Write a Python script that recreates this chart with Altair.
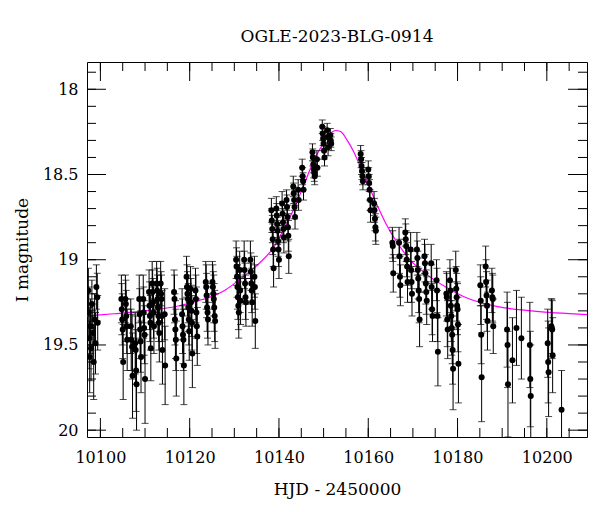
import altair as alt
import pandas as pd

hjd = [
    10097.3, 10097.4, 10097.5, 10097.6, 10097.8, 10097.9, 10098.1, 10098.3, 10098.5, 10098.7, 10098.9, 10099.1, 10099.3, 10099.4,
    10104.7, 10104.8, 10104.9, 10105.0, 10105.1,
    10105.6, 10105.7, 10105.8, 10105.9, 10106.0,
    10106.8, 10106.9, 10107.1, 10107.2,
    10107.8, 10107.9, 10108.0, 10108.1,
    10108.7, 10108.8, 10108.9, 10109.0, 10109.1,
    10109.6, 10109.7, 10109.8, 10109.9, 10110.0,
    10110.9, 10111.0, 10111.1, 10111.2, 10111.3,
    10111.6, 10111.7, 10111.8, 10111.9, 10112.0,
    10112.6, 10112.7, 10112.8, 10112.9, 10113.0, 10113.1, 10113.2,
    10113.5, 10113.6, 10113.7, 10113.8, 10113.9,
    10114.4, 10114.5,
    10116.5, 10116.6, 10116.7, 10116.8, 10116.9, 10117.0,
    10118.3, 10118.4, 10118.5, 10118.6, 10118.7,
    10119.3, 10119.4, 10119.5, 10119.6, 10119.7, 10119.8, 10119.9,
    10120.2, 10120.3, 10120.4, 10120.5, 10120.6,
    10121.3, 10121.4, 10121.5, 10121.6, 10121.7,
    10123.6, 10123.7, 10123.8, 10123.9, 10124.0, 10124.1,
    10125.1, 10125.2, 10125.3, 10125.4, 10125.5, 10125.6, 10125.7,
    10130.4, 10130.5, 10130.6, 10130.7, 10130.8, 10130.9, 10131.0,
    10131.2, 10131.3, 10131.4,
    10132.2, 10132.3, 10132.4, 10132.5, 10132.6,
    10133.6, 10133.7, 10133.8, 10133.9, 10134.0,
    10134.5, 10134.6, 10134.7,
    10138.3, 10138.4, 10138.5, 10138.6, 10138.7, 10138.8,
    10139.4, 10139.5, 10139.6, 10139.7, 10139.8, 10139.9, 10140.0,
    10140.7, 10140.8, 10140.9, 10141.0, 10141.1,
    10141.7, 10141.8, 10141.9, 10142.0, 10142.1, 10142.2,
    10143.2, 10143.3, 10143.4, 10143.5, 10143.6,
    10144.3, 10144.4,
    10145.2, 10145.3, 10145.4, 10145.5,
    10147.5, 10147.6, 10147.7, 10147.8, 10147.9, 10148.0,
    10148.5, 10148.6,
    10149.7, 10149.8, 10149.9, 10150.0, 10150.1, 10150.2,
    10150.8, 10150.9, 10151.0,
    10151.5, 10151.6, 10151.7,
    10158.3, 10158.4, 10158.5, 10158.6, 10158.7, 10158.8,
    10160.0, 10160.1, 10160.2, 10160.3, 10160.4, 10160.5,
    10161.3, 10161.4, 10161.5, 10161.6, 10161.7,
    10165.4, 10165.5, 10165.6,
    10166.9, 10167.0, 10167.1, 10167.2,
    10168.3, 10168.4, 10168.5, 10168.6, 10168.7, 10168.8,
    10169.5, 10169.6, 10169.7, 10169.8,
    10170.9, 10171.0, 10171.1, 10171.2, 10171.3, 10171.4, 10171.5,
    10172.6, 10172.7, 10172.8, 10172.9, 10173.0, 10173.1,
    10174.1, 10174.2, 10174.3, 10174.4,
    10175.3, 10175.4, 10175.5, 10175.6,
    10177.5, 10177.6, 10177.7, 10177.8,
    10178.3, 10178.4, 10178.5, 10178.6, 10178.7, 10178.8, 10178.9, 10179.0,
    10179.6, 10179.7, 10179.8, 10179.9, 10180.0, 10180.1, 10180.2,
    10185.1, 10185.2, 10185.3, 10185.4,
    10186.3, 10186.4, 10186.5, 10186.6, 10186.7,
    10187.7, 10187.8, 10187.9, 10188.0,
    10191.1, 10191.2, 10191.3,
    10192.3, 10193.2, 10194.3,
    10196.2, 10196.3, 10196.4,
    10200.2, 10200.3, 10200.4,
    10201.0, 10201.1, 10201.2, 10201.3,
    10203.3,
]

mag = [
    19.18, 19.31, 19.46, 19.57, 19.39, 19.52, 19.26, 19.43, 19.60, 19.35, 19.49, 19.16, 19.22, 19.37,
    19.23, 19.29, 19.35, 19.41, 19.60,
    19.23, 19.26, 19.33, 19.39, 19.47,
    19.39, 19.47, 19.51, 19.68,
    19.49, 19.53, 19.65, 19.73,
    19.23, 19.32, 19.41, 19.48, 19.57,
    19.23, 19.31, 19.40, 19.44, 19.70,
    19.19, 19.27, 19.33, 19.37, 19.52,
    19.14, 19.19, 19.25, 19.31, 19.39,
    19.14, 19.18, 19.23, 19.28, 19.33, 19.37, 19.43,
    19.14, 19.20, 19.23, 19.33, 19.53,
    19.32, 19.62,
    19.19, 19.23, 19.35, 19.41, 19.47, 19.58,
    19.32, 19.39, 19.44, 19.47, 19.62,
    19.10, 19.16, 19.20, 19.23, 19.28, 19.35, 19.42,
    19.17, 19.25, 19.30, 19.37, 19.55,
    19.18, 19.23, 19.31, 19.39, 19.45,
    19.13, 19.16, 19.21, 19.28, 19.31, 19.35,
    19.13, 19.16, 19.20, 19.23, 19.28, 19.33, 19.36,
    19.00, 19.04, 19.10, 19.16, 19.22, 19.27, 19.31,
    19.06, 19.18, 19.24,
    19.00, 19.06, 19.14, 19.22, 19.25,
    19.00, 19.07, 19.14, 19.18, 19.25,
    19.10, 19.16, 19.36,
    18.71, 18.77, 18.82, 18.88, 18.94, 19.05,
    18.70, 18.74, 18.79, 18.83, 18.89, 18.94, 19.00,
    18.67, 18.73, 18.78, 18.82, 18.87,
    18.65, 18.69, 18.75, 18.81, 18.86, 18.98,
    18.57, 18.61, 18.65, 18.69, 18.75,
    18.59, 18.65,
    18.46, 18.51, 18.54, 18.59,
    18.37, 18.40, 18.44, 18.47, 18.49, 18.51,
    18.41, 18.46,
    18.22, 18.26, 18.29, 18.32, 18.36, 18.40,
    18.24, 18.28, 18.34,
    18.27, 18.30, 18.32,
    18.38, 18.41, 18.45, 18.48, 18.51, 18.54,
    18.47, 18.51, 18.55, 18.59, 18.65, 18.71,
    18.67, 18.71, 18.76, 18.81, 18.83,
    18.90, 18.92, 19.08,
    18.90, 18.98, 19.10, 19.15,
    18.84, 18.88, 18.92, 19.00, 19.04, 19.13,
    18.94, 19.06, 19.13, 19.20,
    18.94, 18.99, 19.06, 19.11, 19.18, 19.23, 19.35,
    18.98, 19.02, 19.08, 19.14, 19.19, 19.24,
    19.02, 19.16, 19.29, 19.33,
    19.12, 19.18, 19.33, 19.54,
    19.20, 19.22, 19.35, 19.41,
    19.12, 19.18, 19.27, 19.33, 19.40, 19.44, 19.53, 19.64,
    19.06, 19.17, 19.22, 19.27, 19.29, 19.38, 19.61,
    19.15, 19.24, 19.44, 19.69,
    19.04, 19.13, 19.21, 19.27, 19.36,
    19.18, 19.22, 19.23, 19.39,
    19.41, 19.50, 19.73,
    19.59, 19.40, 19.46,
    19.50, 19.70, 19.80,
    19.49, 19.60, 19.66,
    19.39, 19.40, 19.41, 19.56,
    19.88,
]

err = [
    0.13, 0.15, 0.18, 0.21, 0.16, 0.19, 0.14, 0.17, 0.22, 0.15, 0.18, 0.13, 0.14, 0.16,
    0.14, 0.15, 0.15, 0.17, 0.22,
    0.14, 0.14, 0.15, 0.16, 0.18,
    0.16, 0.18, 0.19, 0.25,
    0.18, 0.20, 0.24, 0.27,
    0.14, 0.15, 0.17, 0.18, 0.21,
    0.14, 0.15, 0.16, 0.17, 0.26,
    0.13, 0.14, 0.15, 0.16, 0.19,
    0.13, 0.13, 0.14, 0.15, 0.16,
    0.13, 0.13, 0.14, 0.14, 0.15, 0.16, 0.17,
    0.13, 0.13, 0.14, 0.15, 0.20,
    0.15, 0.23,
    0.13, 0.14, 0.15, 0.17, 0.18, 0.22,
    0.15, 0.16, 0.17, 0.18, 0.23,
    0.12, 0.13, 0.13, 0.14, 0.14, 0.15, 0.17,
    0.13, 0.14, 0.15, 0.16, 0.20,
    0.13, 0.14, 0.15, 0.16, 0.17,
    0.12, 0.13, 0.13, 0.14, 0.15, 0.15,
    0.12, 0.13, 0.13, 0.14, 0.14, 0.15, 0.16,
    0.11, 0.11, 0.12, 0.13, 0.13, 0.14, 0.15,
    0.11, 0.13, 0.14,
    0.11, 0.11, 0.12, 0.13, 0.14,
    0.11, 0.11, 0.12, 0.13, 0.14,
    0.12, 0.13, 0.16,
    0.07, 0.07, 0.08, 0.09, 0.10, 0.11,
    0.07, 0.07, 0.08, 0.08, 0.09, 0.10, 0.11,
    0.07, 0.07, 0.08, 0.08, 0.09,
    0.06, 0.07, 0.07, 0.08, 0.09, 0.10,
    0.06, 0.06, 0.06, 0.07, 0.07,
    0.06, 0.06,
    0.05, 0.05, 0.05, 0.06,
    0.05, 0.05, 0.05, 0.05, 0.05, 0.05,
    0.05, 0.05,
    0.04, 0.04, 0.04, 0.04, 0.05, 0.05,
    0.04, 0.04, 0.05,
    0.04, 0.04, 0.04,
    0.05, 0.05, 0.05, 0.05, 0.05, 0.05,
    0.05, 0.05, 0.05, 0.06, 0.06, 0.07,
    0.07, 0.07, 0.07, 0.08, 0.08,
    0.09, 0.09, 0.11,
    0.09, 0.10, 0.12, 0.12,
    0.08, 0.09, 0.09, 0.10, 0.11, 0.12,
    0.10, 0.11, 0.12, 0.13,
    0.10, 0.10, 0.11, 0.12, 0.13, 0.14, 0.16,
    0.10, 0.11, 0.11, 0.12, 0.13, 0.14,
    0.11, 0.13, 0.15, 0.15,
    0.12, 0.13, 0.15, 0.20,
    0.13, 0.14, 0.16, 0.17,
    0.12, 0.13, 0.14, 0.15, 0.16, 0.17, 0.20, 0.24,
    0.11, 0.13, 0.14, 0.14, 0.15, 0.16, 0.23,
    0.12, 0.14, 0.17, 0.26,
    0.12, 0.13, 0.14, 0.15, 0.17,
    0.13, 0.14, 0.14, 0.16,
    0.22, 0.25, 0.31,
    0.25, 0.22, 0.24,
    0.25, 0.28, 0.30,
    0.20, 0.24, 0.26,
    0.16, 0.17, 0.17, 0.22,
    0.23,
]

# ---------------- model curve ----------------
model_hjd = [10097, 10103, 10110, 10117.7, 10122, 10125, 10128, 10131, 10135, 10139,
             10141.5, 10143.4, 10145.6, 10147.8, 10150.1, 10151.5, 10152.7, 10153.8,
             10155.3, 10156.8, 10158, 10160, 10162, 10164, 10166, 10169, 10172.8,
             10178, 10181.7, 10189, 10196.6, 10209]
model_mag = [19.33, 19.317, 19.30, 19.27, 19.24, 19.215, 19.177, 19.12, 19.035, 18.92,
             18.80, 18.70, 18.56, 18.42, 18.31, 18.26, 18.242, 18.248,
             18.30, 18.37, 18.44, 18.56, 18.68, 18.79, 18.88, 18.99, 19.08,
             19.17, 19.22, 19.275, 19.30, 19.322]

# ---------------- axis ticks ----------------
x_labels = [10100, 10120, 10140, 10160, 10180, 10200]
x_minor = [10100, 10105, 10110, 10115, 10120, 10125, 10130, 10135, 10140, 10145, 10150,
           10155, 10160, 10165, 10170, 10175, 10180, 10185, 10190, 10195, 10200, 10205]
y_labels = [18.0, 18.5, 19.0, 19.5, 20.0]
y_minor = [17.9, 18.0, 18.1, 18.2, 18.3, 18.4, 18.5, 18.6, 18.7, 18.8, 18.9, 19.0,
           19.1, 19.2, 19.3, 19.4, 19.5, 19.6, 19.7, 19.8, 19.9, 20.0]

W, H = 500, 375
X_DOMAIN = [10097, 10209]
Y_DOMAIN = [17.84, 20.04]
FONT = "DejaVu Serif"

obs = pd.DataFrame({"hjd": hjd, "mag": mag, "err": err})
obs["lo"] = obs["mag"] - obs["err"]
obs["hi"] = obs["mag"] + obs["err"]
model = pd.DataFrame({"hjd": model_hjd, "mag": model_mag})

xs = alt.Scale(domain=X_DOMAIN, nice=False, zero=False)
ys = alt.Scale(domain=Y_DOMAIN, nice=False, zero=False, reverse=True)
x_axis = alt.Axis(values=x_labels, format="d", title="HJD - 2450000", labelPadding=12,
                  titlePadding=16)
y_axis = alt.Axis(values=y_labels, format="~g", title="I magnitude", labelPadding=9,
                  titlePadding=11)

def X(field="hjd"):
    return alt.X(f"{field}:Q", scale=xs, axis=x_axis)

def Y(field="mag"):
    return alt.Y(f"{field}:Q", scale=ys, axis=y_axis)

bars = alt.Chart(obs).mark_rule(color="black", strokeWidth=1, clip=True).encode(
    x=X(), y=Y("lo"), y2="hi:Q")
cap_lo = alt.Chart(obs).mark_tick(color="black", orient="horizontal", size=7,
                                  thickness=1, clip=True).encode(x=X(), y=Y("lo"))
cap_hi = alt.Chart(obs).mark_tick(color="black", orient="horizontal", size=7,
                                  thickness=1, clip=True).encode(x=X(), y=Y("hi"))
pts = alt.Chart(obs).mark_circle(color="black", size=36, opacity=1, clip=True).encode(
    x=X(), y=Y())
curve = alt.Chart(model).mark_line(color="#ff00ff", strokeWidth=1.2,
                                   interpolate="monotone", clip=True).encode(x=X(), y=Y())

xmin_df = pd.DataFrame({"t": x_minor})
xmaj_df = pd.DataFrame({"t": x_labels})
ymin_df = pd.DataFrame({"m": y_minor})
ymaj_df = pd.DataFrame({"m": y_labels})

def xticks(df, length):
    bottom = alt.Chart(df).mark_rule(color="black", strokeWidth=1).encode(
        x=X("t"), y=alt.value(H), y2=alt.value(H - length))
    top = alt.Chart(df).mark_rule(color="black", strokeWidth=1).encode(
        x=X("t"), y=alt.value(0), y2=alt.value(length))
    return [bottom, top]

def yticks(df, length):
    left = alt.Chart(df).mark_rule(color="black", strokeWidth=1).encode(
        y=Y("m"), x=alt.value(0), x2=alt.value(length))
    right = alt.Chart(df).mark_rule(color="black", strokeWidth=1).encode(
        y=Y("m"), x=alt.value(W), x2=alt.value(W - length))
    return [left, right]

tick_layers = xticks(xmin_df, 9) + xticks(xmaj_df, 19) + yticks(ymin_df, 9) + yticks(ymaj_df, 19)

chart = alt.layer(
    curve, bars, cap_lo, cap_hi, pts, *tick_layers
).properties(
    width=W, height=H,
    title=alt.TitleParams("OGLE-2023-BLG-0914", font=FONT, fontSize=17,
                          fontWeight="normal", color="black", anchor="middle",
                          frame="group", baseline="alphabetic", offset=3),
    autosize=alt.AutoSizeParams(type="none"),
    padding={"left": 87, "top": 62, "right": 13, "bottom": 75},
).configure_view(
    stroke="black", strokeWidth=1
).configure_axis(
    grid=False, domain=False, ticks=False, tickSize=0,
    labelFont=FONT, labelFontSize=16, labelColor="black",
    titleFont=FONT, titleFontSize=17, titleFontWeight="normal", titleColor="black",
)

chart.save("out.html", embed_options={"renderer": "svg", "actions": False})
